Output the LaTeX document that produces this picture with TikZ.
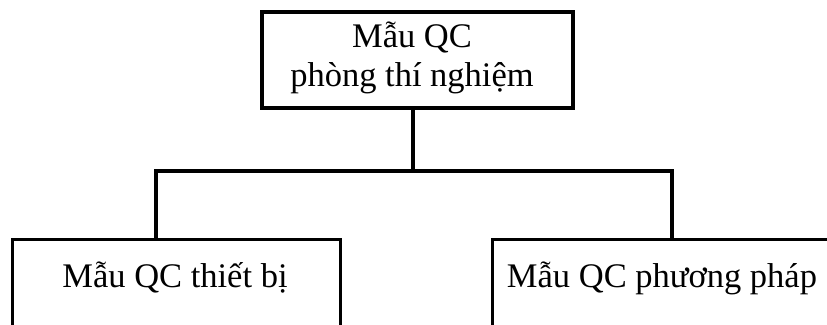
\documentclass[tikz,border=0pt]{standalone}
\usepackage{fontspec}
\setmainfont{Liberation Serif}
\begin{document}
\begin{tikzpicture}[x=1pt,y=-1pt,
  box/.style={draw=black, line width=3.05pt, rectangle, inner sep=0pt},
  lbl/.style={font=\fontsize{34.5}{39}\selectfont, inner sep=0pt, anchor=base},
  wire/.style={draw=black, line width=3.05pt}]
  \useasboundingbox (0,0) rectangle (827,324);
  \clip (0,0) rectangle (827,324);
  % top box
  \node[box, minimum width=311pt, minimum height=96pt] (top) at (417.5,60) {};
  \node[lbl] (toptxt1) at (412,47) {Mẫu QC};
  \node[lbl] (toptxt2) at (412,86) {phòng thí nghiệm};
  % lower boxes (they run past the page edge)
  \node[box, minimum width=328pt, minimum height=110pt, anchor=north west] (left) at (11,237.5) {};
  \node[box, minimum width=350pt, minimum height=110pt, anchor=north west] (right) at (491,237.5) {};
  \node[lbl] (lefttxt) at (175,287) {Mẫu QC thiết bị};
  \node[lbl] (righttxt) at (662,287) {Mẫu QC phương pháp};
  % branch lines
  \coordinate (j) at (413,171);
  \coordinate (jl) at (156,171);
  \coordinate (jr) at (672,171);
  \draw[wire] (top.south -| j) -- (j);
  \draw[wire, line cap=rect] (jl |- left.north) -- (jl) -- (jr) -- (jr |- right.north);
\end{tikzpicture}
\end{document}
